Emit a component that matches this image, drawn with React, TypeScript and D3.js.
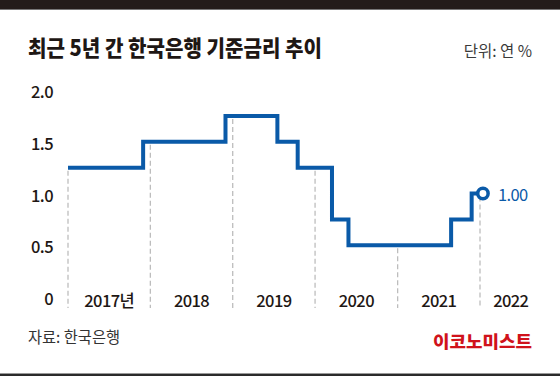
import React from "react";
import * as d3 from "d3";

const changeDates = ["2017-01-01", "2017-11-30", "2018-11-30", "2019-07-18", "2019-10-16", "2020-03-16", "2020-05-28", "2021-08-26", "2021-11-25", "2022-01-14"];
const rates = [1.25, 1.5, 1.75, 1.5, 1.25, 0.75, 0.5, 0.75, 1.0, 1.0];
const years = [2017, 2018, 2019, 2020, 2021, 2022];
const yearLabels = ["2017년", "2018", "2019", "2020", "2021", "2022"];
const axisEnd = "2022-10-01";
const yTicks = [0, 0.5, 1.0, 1.5, 2.0];
const yTickLabels = ["0", "0.5", "1.0", "1.5", "2.0"];
const lastLabel = "1.00";
const title = "최근 5년 간 한국은행 기준금리 추이";
const unit = "단위: 연 %";
const source = "자료: 한국은행";
const brand = "이코노미스트";

const W = 560;
const H = 376;
const FONT = "'Noto Sans CJK KR', 'Noto Sans', sans-serif";
const DARK = "#1e1714";
const BLUE = "#0a5aa8";

const parse = d3.timeParse("%Y-%m-%d");

export default function App() {
  const data = changeDates.map((d, i) => ({ date: parse(d) as Date, v: rates[i] }));
  const x = d3.scaleTime().domain([new Date(2017, 0, 1), new Date(2022, 0, 1)]).range([68, 480]);
  const y = d3.scaleLinear().domain([0, 2]).range([297, 90]);
  const line = d3
    .line<{ date: Date; v: number }>()
    .x((d) => x(d.date))
    .y((d) => y(d.v))
    .curve(d3.curveStepAfter);

  const rateAt = (dt: Date) => {
    let r = rates[0];
    data.forEach((d) => {
      if (d.date <= dt) r = d.v;
    });
    return r;
  };

  const bounds = years.map((yr) => new Date(yr, 0, 1));
  const ends = [...bounds.slice(1), parse(axisEnd) as Date];
  const last = data[data.length - 1];
  const gridBottom = 308;

  return (
    <svg width={W} height={H} style={{ position: "absolute", left: 0, top: 0, background: "#fff" }} fontFamily={FONT}>
      <rect x={0} y={0} width={W} height={9} fill="#231c1a" />
      <rect x={0} y={9} width={W} height={1} fill="#777" />
      <rect x={0} y={373} width={W} height={1} fill="#999" />
      <rect x={0} y={374} width={W} height={2} fill="#2a2a2a" />

      <text x={28} y={46} dominantBaseline="central" fontSize={22} fontWeight={900} fill={DARK} textLength={294} lengthAdjust="spacingAndGlyphs">
        {title}
      </text>
      <text x={532} y={50} dominantBaseline="central" textAnchor="end" fontSize={15.5} fill="#3a3a3a">
        {unit}
      </text>

      {yTicks.map((t, i) => (
        <text key={t} x={53} y={y(t) + 1} dominantBaseline="central" textAnchor="end" fontSize={16.5} fontWeight={500} fill={DARK} letterSpacing={-0.6}>
          {yTickLabels[i]}
        </text>
      ))}

      {bounds.map((b, i) => (
        <line
          key={"g" + i}
          x1={x(b)}
          x2={x(b)}
          y1={y(rateAt(b)) + 3}
          y2={gridBottom}
          stroke="#bdbdbd"
          strokeWidth={1.3}
          strokeDasharray="5,3"
        />
      ))}

      {bounds.map((b, i) => (
        <text
          key={"yl" + i}
          x={(x(b) + x(ends[i])) / 2}
          y={300}
          dominantBaseline="central"
          textAnchor="middle"
          fontSize={16.5}
          fontWeight={500}
          fill={DARK}
          letterSpacing={-0.6}
        >
          {yearLabels[i]}
        </text>
      ))}

      <path d={line(data) || ""} fill="none" stroke={BLUE} strokeWidth={4} strokeLinejoin="miter" />
      <circle cx={x(last.date)} cy={y(last.v)} r={5.2} fill="#fff" stroke={BLUE} strokeWidth={3.5} />
      <text x={x(last.date) + 15} y={y(last.v)} dominantBaseline="central" fontSize={16.5} fill={BLUE} letterSpacing={-0.6}>
        {lastLabel}
      </text>

      <text x={28} y={336} dominantBaseline="central" fontSize={15.5} fill="#333" textLength={92} lengthAdjust="spacingAndGlyphs">
        {source}
      </text>
      <text x={532} y={340} dominantBaseline="central" textAnchor="end" fontSize={17} fontWeight={900} fill="#d0121b" textLength={99} lengthAdjust="spacingAndGlyphs">
        {brand}
      </text>
    </svg>
  );
}
